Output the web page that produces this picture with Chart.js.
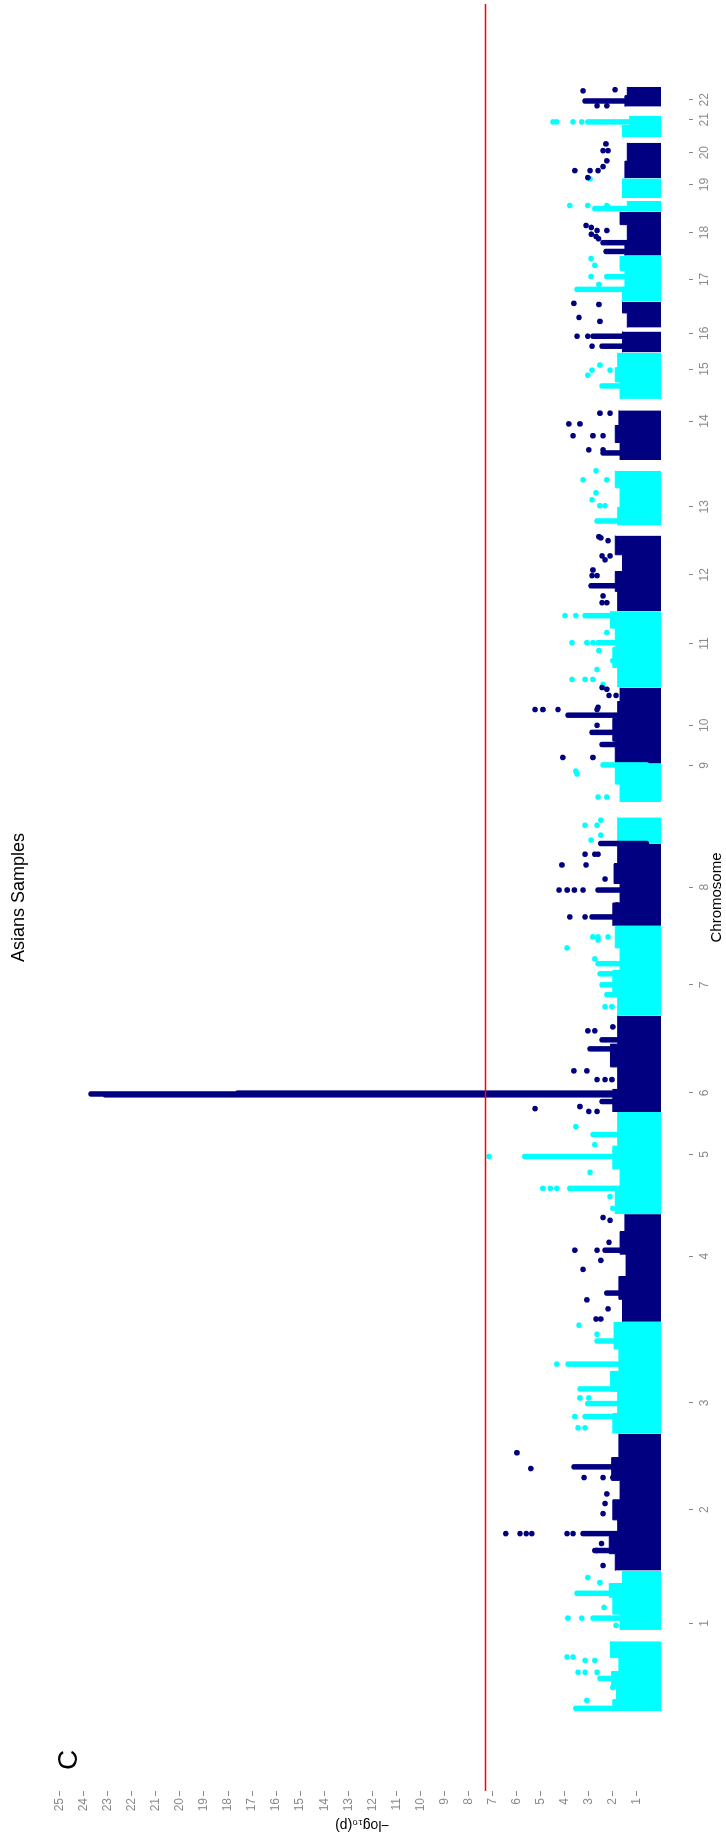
<!DOCTYPE html>
<html>
<head>
<meta charset="utf-8">
<title>Asians Samples</title>
<script src="https://cdn.jsdelivr.net/npm/chart.js@4.4.1/dist/chart.umd.min.js"></script>
<style>
	html, body { margin: 0; padding: 0; width: 726px; height: 1840px; overflow: hidden; background: #fff; }
	#wrap { position: absolute; left: 0; top: 0; width: 1840px; height: 726px; transform-origin: 0 0; transform: translate(0, 1840px) rotate(-90deg); }
	canvas { display: block; }
</style>
</head>
<body>
<div id="wrap"><canvas id="manhattan" width="1840" height="726"></canvas></div>
<script>
// chromosomes and their lengths (Mb), label positions inside each chromosome (Mb)
const chromosomes = ['1', '2', '3', '4', '5', '6', '7', '8', '9', '10', '11', '12', '13', '14', '15', '16', '17', '18', '19', '20', '21', '22']
const chromLengthMb = [249.3, 243.2, 198.0, 191.2, 180.9, 171.1, 159.1, 146.4, 141.2, 135.5, 135.0, 133.9, 115.2, 107.3, 102.5, 90.4, 81.2, 78.1, 59.1, 63.0, 48.1, 51.3]
const tickPosMb = [155.7, 108.1, 54.3, 116.4, 105.6, 34, 54.5, 68.8, 138, 68, 77.5, 64.6, 51.1, 88.1, 72.9, 34, 39.1, 41.1, 48, 45.5, 40.9, 28.1]
const yTicks = [1, 2, 3, 4, 5, 6, 7, 8, 9, 10, 11, 12, 13, 14, 15, 16, 17, 18, 19, 20, 21, 22, 23, 24, 25]
const threshold = 7.3

// dense SNP band: [chr, startMb, endMb, -log10(p) reached by the solid mass]
const bandSegments = [
	[1, 0, 20, 2.0], [1, 20, 45, 1.85], [1, 45, 70, 2.05], [1, 70, 95, 1.75], [1, 95, 124, 2.1], [1, 144, 172, 1.7], [1, 172, 202, 2.0], [1, 202, 226, 2.15], [1, 226, 249, 1.6],
	[2, 0, 30, 1.9], [2, 30, 60, 2.15], [2, 60, 90, 1.8], [2, 90, 125, 2.0], [2, 125, 160, 1.7], [2, 160, 200, 2.05], [2, 200, 243, 1.75],
	[3, 0, 35, 2.0], [3, 35, 75, 1.8], [3, 75, 110, 2.1], [3, 110, 150, 1.75], [3, 150, 198, 1.95],
	[4, 0, 40, 1.6], [4, 40, 80, 1.75], [4, 80, 120, 1.45], [4, 120, 160, 1.7], [4, 160, 191, 1.5],
	[5, 0, 40, 1.9], [5, 40, 80, 1.7], [5, 80, 120, 2.0], [5, 120, 181, 1.8],
	[6, 0, 40, 2.0], [6, 40, 80, 1.8], [6, 80, 120, 2.1], [6, 120, 171, 1.8],
	[7, 0, 40, 1.8], [7, 40, 80, 2.0], [7, 80, 120, 1.7], [7, 120, 159, 1.9],
	[8, 0, 40, 2.0], [8, 40, 75, 1.7], [8, 75, 110, 1.95], [8, 110, 146, 1.8],
	[9, 0, 46, 1.8], [9, 73, 105, 1.7], [9, 105, 141, 1.9],
	[10, 0, 40, 1.9], [10, 40, 80, 2.0], [10, 80, 110, 1.8], [10, 110, 135, 1.7],
	[11, 0, 35, 1.8], [11, 35, 70, 2.0], [11, 70, 105, 1.9], [11, 105, 135, 2.1],
	[12, 0, 35, 1.8], [12, 35, 70, 1.9], [12, 70, 100, 1.6], [12, 100, 134, 1.9],
	[13, 18, 50, 1.8], [13, 50, 85, 1.7], [13, 85, 115, 1.9],
	[14, 19, 50, 1.7], [14, 50, 80, 1.9], [14, 80, 107, 1.75],
	[15, 20, 50, 1.7], [15, 50, 75, 1.9], [15, 75, 102, 1.8],
	[16, 0, 37, 1.6], [16, 44, 70, 1.4], [16, 70, 90, 1.6],
	[17, 0, 25, 1.6], [17, 25, 55, 1.5], [17, 55, 81, 1.7],
	[18, 0, 25, 1.5], [18, 25, 55, 1.4], [18, 55, 78, 1.7],
	[19, 0, 19, 1.4], [19, 24, 59, 1.6],
	[20, 0, 30, 1.5], [20, 30, 63, 1.4],
	[21, 10, 30, 1.6], [21, 30, 48, 1.3],
	[22, 16, 35, 1.5], [22, 35, 51, 1.4],
]

// stacks of SNPs at one locus: [chr, posMb, top -log10(p)]
const columnPeaks = [
	[1, 209, 3.49], [1, 165, 2.83], [1, 58, 2.54], [1, 5, 3.54],
	[2, 184, 3.62], [2, 65.6, 3.24], [2, 35.6, 2.75],
	[3, 164, 2.66], [3, 123, 3.87], [3, 79, 3.37], [3, 53, 3.04], [3, 30, 3.16],
	[4, 127, 2.33], [4, 51, 2.25],
	[5, 102, 5.66], [5, 45.5, 3.79], [5, 141, 2.83],
	[6, 30.5, 23.1], [6, 32, 23.7], [6, 33.5, 17.6], [6, 18.6, 2.45], [6, 112, 2.95], [6, 128, 2.45],
	[7, 92, 2.62], [7, 74, 2.54], [7, 54.5, 2.45], [7, 37, 2.25],
	[8, 146, 2.5], [8, 63.5, 2.62], [8, 15.8, 2.87],
	[9, 139, 2.41],
	[10, 86, 3.87], [10, 55.5, 2.87], [10, 34, 2.45],
	[11, 127, 3.16], [11, 79, 2.62], [11, 47, 2.0],
	[12, 45, 2.91],
	[13, 26, 2.66],
	[14, 31.5, 2.41],
	[15, 43, 2.45],
	[16, 28.7, 2.83], [16, 11, 2.45],
	[17, 44, 2.25], [17, 21.4, 3.49],
	[18, 23, 2.41], [18, 7.4, 2.29],
	[19, 5.5, 2.75],
	[21, 37, 3.04],
	[22, 26, 3.16],
]

// single SNPs standing out of the band: [chr, posMb, -log10(p)]
const loosePoints = [
	[1, 237, 3.04], [1, 228, 2.54], [1, 184, 2.37], [1, 165, 3.87], [1, 165, 3.29], [1, 152, 1.87], [1, 96, 3.91], [1, 96, 3.66], [1, 90, 3.16], [1, 90, 2.75], [1, 69, 3.45], [1, 69, 3.16], [1, 69, 2.66], [1, 42, 2.0], [1, 19, 3.08],
	[2, 209, 5.99], [2, 181, 5.41], [2, 165, 3.2], [2, 165, 2.41], [2, 165, 2.0], [2, 136, 2.25], [2, 119, 2.33], [2, 101, 2.41], [2, 65.6, 6.45], [2, 65.6, 5.86], [2, 65.6, 5.6], [2, 65.6, 5.37], [2, 65.6, 3.91], [2, 65.6, 3.66], [2, 48, 2.47], [2, 35.6, 2.67], [2, 9, 2.41],
	[3, 192, 3.41], [3, 176, 2.66], [3, 123, 4.33], [3, 63, 3.37], [3, 63, 3.0], [3, 30, 3.58], [3, 10, 3.45], [3, 10, 3.16],
	[4, 185, 2.41], [4, 180, 2.12], [4, 141, 2.16], [4, 127, 3.58], [4, 127, 2.66], [4, 109, 2.5], [4, 93, 3.24], [4, 39, 3.08], [4, 23, 2.2], [4, 5, 2.7], [4, 5, 2.5],
	[5, 155, 3.54], [5, 123, 2.75], [5, 102, 7.15], [5, 74, 2.95], [5, 45.5, 4.91], [5, 45.5, 4.6], [5, 45.5, 4.33], [5, 31, 2.12], [5, 10, 2.0],
	[6, 151, 2.0], [6, 144, 3.04], [6, 144, 2.75], [6, 94.7, 2.0], [6, 73, 3.62], [6, 73, 3.08], [6, 57.5, 2.66], [6, 57.5, 2.33], [6, 57.5, 2.04], [6, 9.7, 3.37], [6, 6, 5.24], [6, 1, 3.0], [6, 1, 2.66],
	[7, 139.5, 2.83], [7, 139.5, 2.62], [7, 139.5, 2.2], [7, 134, 2.62], [7, 120, 3.91], [7, 100.5, 2.75], [7, 15.6, 2.33], [7, 15.6, 2.04],
	[8, 127, 3.16], [8, 127, 2.75], [8, 127, 2.62], [8, 108, 4.12], [8, 108, 3.12], [8, 83, 2.33], [8, 63.5, 4.24], [8, 63.5, 3.9], [8, 63.5, 3.6], [8, 63.5, 3.24], [8, 37, 1.83], [8, 15.8, 3.79], [8, 15.8, 3.16],
	[9, 5.7, 2.91], [9, 14.5, 2.5], [9, 32, 3.16], [9, 32, 2.66], [9, 41, 2.5], [9, 82, 2.62], [9, 82, 2.25], [9, 123, 3.49], [9, 128, 3.54],
	[10, 135, 2.45], [10, 132, 2.25], [10, 121, 2.16], [10, 121, 1.87], [10, 100, 2.62], [10, 96, 5.24], [10, 96, 4.91], [10, 96, 4.28], [10, 96, 2.66], [10, 68, 2.66], [10, 11, 4.08], [10, 11, 2.83],
	[11, 127, 3.99], [11, 127, 3.54], [11, 97, 2.25], [11, 79, 3.7], [11, 79, 3.08], [11, 79, 2.83], [11, 65, 2.58], [11, 31.5, 2.66], [11, 14, 3.7], [11, 14, 3.16], [11, 14, 2.83], [11, 5, 2.41],
	[12, 132, 2.58], [12, 130, 2.5], [12, 125, 2.2], [12, 98, 2.45], [12, 98, 2.12], [12, 91, 2.33], [12, 73, 2.83], [12, 63, 2.87], [12, 63, 2.66], [12, 27, 2.41], [12, 15, 2.45], [12, 15, 2.25],
	[13, 115, 2.7], [13, 99, 3.24], [13, 99, 2.25], [13, 76, 2.7], [13, 63.5, 2.87], [13, 53, 2.54], [13, 53, 2.33],
	[14, 102, 2.54], [14, 102, 2.12], [14, 83, 3.83], [14, 83, 3.37], [14, 62, 3.66], [14, 62, 2.83], [14, 62, 2.41], [14, 37, 3.0], [14, 37, 2.41],
	[15, 80, 2.54], [15, 71, 2.87], [15, 71, 2.12], [15, 62, 3.04],
	[16, 87, 3.62], [16, 85, 2.58], [16, 62, 3.41], [16, 55, 2.54], [16, 28.7, 3.49], [16, 28.7, 3.04], [16, 11, 2.87],
	[17, 76, 2.91], [17, 64, 2.75], [17, 44, 2.91], [17, 30, 2.58],
	[18, 53.5, 3.12], [18, 50, 2.9], [18, 44.6, 2.66], [18, 44.6, 2.25], [18, 38, 2.9], [18, 34, 2.7], [18, 30, 2.6],
	[19, 58, 2.95], [19, 10.8, 3.79], [19, 10.8, 3.04], [19, 10.8, 2.25],
	[20, 61, 2.29], [20, 49, 2.41], [20, 49, 2.2], [20, 31, 2.25], [20, 20.7, 2.41], [20, 13.6, 3.58], [20, 13.6, 2.95], [20, 13.6, 2.62], [20, 1.2, 3.04],
	[21, 37, 4.49], [21, 37, 4.33], [21, 37, 3.66], [21, 37, 3.29],
	[22, 46, 1.91], [22, 44, 3.24], [22, 17.5, 2.66], [22, 17.5, 2.25],
]

const NAVY = '#000080'
const CYAN = '#00ffff'
const GREY = '#8a8a8a'
const colorOf = (chr) => (chr % 2 === 1 ? CYAN : NAVY)

// cumulative genome offsets
const offsets = []
let total = 0
chromLengthMb.forEach((len) => {
	offsets.push(total)
	total += len
})
const chromTicks = tickPosMb.map((p, i) => offsets[i] + p)
const xMin = -141.6
const xMax = 3027.7

Chart.defaults.font.family = '"Liberation Sans", Arial, Helvetica, sans-serif'

const bandSets = chromosomes.map((name, i) => {
	const chr = i + 1
	const data = []
	let prevEnd = null
	bandSegments.filter((s) => s[0] === chr).forEach(([, start, end, h]) => {
		if (prevEnd !== null && start - prevEnd > 0.5) data.push({ x: offsets[i] + (prevEnd + start) / 2, y: null })
		data.push({ x: offsets[i] + start, y: h }, { x: offsets[i] + end, y: h })
		prevEnd = end
	})
	return {
		type: 'line',
		label: 'chr' + name,
		data: data,
		fill: 'origin',
		backgroundColor: colorOf(chr),
		borderColor: colorOf(chr),
		borderWidth: 1,
		pointRadius: 0,
		spanGaps: false,
		order: 3,
	}
})

// each stack starts inside the band so its round cap stays hidden
function columnSet(color) {
	const data = []
	columnPeaks.filter((c) => colorOf(c[0]) === color).forEach(([chr, pos, top]) => {
		const x = offsets[chr - 1] + pos
		data.push({ x: x, y: 0.6 }, { x: x, y: top }, { x: x, y: null })
	})
	return {
		type: 'line',
		data: data,
		borderColor: color,
		borderWidth: 5.5,
		borderCapStyle: 'round',
		pointRadius: 0,
		fill: false,
		spanGaps: false,
		order: 2,
	}
}

function pointSet(color) {
	return {
		type: 'scatter',
		data: loosePoints.filter((p) => colorOf(p[0]) === color).map(([chr, pos, v]) => ({ x: offsets[chr - 1] + pos, y: v })),
		backgroundColor: color,
		pointBackgroundColor: color,
		pointBorderWidth: 0,
		pointRadius: 2.8,
		showLine: false,
		order: 1,
	}
}

const panelLabel = {
	id: 'panelLabel',
	afterDraw(chart) {
		const { ctx, chartArea } = chart
		ctx.save()
		ctx.font = '28px "Liberation Sans", Arial, sans-serif'
		ctx.fillStyle = '#000'
		ctx.textAlign = 'center'
		ctx.textBaseline = 'middle'
		ctx.fillText('C', chartArea.left + 31, chartArea.top + 34)
		ctx.restore()
	},
}

const ctx = document.getElementById('manhattan').getContext('2d')
new Chart(ctx, {
	type: 'scatter',
	data: {
		datasets: [
			{
				type: 'line',
				data: [{ x: xMin, y: threshold }, { x: xMax, y: threshold }],
				borderColor: '#ff0000',
				borderWidth: 1.5,
				pointRadius: 0,
				fill: false,
				order: 0,
			},
			pointSet(NAVY),
			pointSet(CYAN),
			columnSet(NAVY),
			columnSet(CYAN),
			...bandSets,
		],
	},
	options: {
		responsive: false,
		animation: false,
		devicePixelRatio: 1,
		events: [],
		layout: { padding: 0 },
		scales: {
			x: {
				type: 'linear',
				position: 'bottom',
				min: xMin,
				max: xMax,
				afterBuildTicks: (scale) => {
					scale.ticks = chromTicks.map((v) => ({ value: v }))
				},
				afterFit: (scale) => {
					scale.height = 37
				},
				ticks: {
					autoSkip: false,
					maxRotation: 0,
					minRotation: 0,
					padding: 4,
					color: GREY,
					font: { size: 12 },
					callback: (value, index) => chromosomes[index],
				},
				grid: { drawOnChartArea: false, drawTicks: true, tickLength: 4, color: GREY },
				border: { display: false },
				title: { display: true, text: 'Chromosome', color: '#000', font: { size: 15 }, padding: { top: 0, bottom: 0 } },
			},
			y: {
				type: 'linear',
				min: -1.165,
				max: 26.0,
				afterBuildTicks: (scale) => {
					scale.ticks = yTicks.map((v) => ({ value: v }))
				},
				afterFit: (scale) => {
					scale.width = 49
				},
				ticks: { padding: 2, color: GREY, font: { size: 12 } },
				grid: { drawOnChartArea: false, drawTicks: true, tickLength: 5, color: GREY },
				border: { display: false },
				title: { display: true, text: '\u2212log\u2081\u2080(p)', color: '#000', font: { size: 14 }, padding: { top: 7, bottom: 0 } },
			},
		},
		plugins: {
			legend: { display: false },
			tooltip: { enabled: false },
			title: {
				display: true,
				text: 'Asians Samples',
				color: '#000',
				fullSize: false,
				font: { size: 18, weight: 'normal' },
				padding: { top: 8, bottom: 6 },
			},
		},
	},
	plugins: [panelLabel],
})
</script>
</body>
</html>
